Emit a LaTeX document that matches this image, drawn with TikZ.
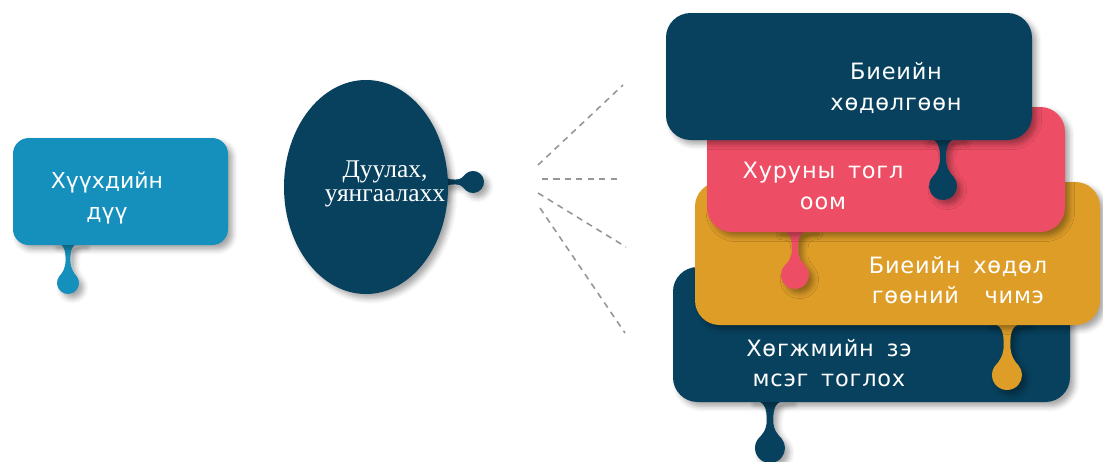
\documentclass[tikz,border=0pt]{standalone}
\usepackage{fontspec}
\setmainfont{DejaVu Sans}
\newfontfamily\wideface[LetterSpace=3.5,WordSpace=1.6]{DejaVu Sans}
\newfontfamily\serifcyr{Liberation Serif}
\usetikzlibrary{shadows.blur}
\definecolor{cblue}{RGB}{21,144,188}
\definecolor{cnavy}{RGB}{7,65,94}
\definecolor{cpink}{RGB}{238,78,101}
\definecolor{corange}{RGB}{222,157,39}
\definecolor{cdash}{RGB}{150,150,150}
\tikzset{
 shad/.style={blur shadow={shadow xshift=2.5pt, shadow yshift=-2.5pt, shadow blur radius=3pt, shadow opacity=35}},
 lbl/.style={text=white, align=center, font=\wideface\fontsize{12.8}{17.5}\selectfont},
 lblleft/.style={text=white, align=center, font=\fontsize{12.5}{17.5}\selectfont},
 dashline/.style={draw=cdash, line width=0.9pt, dash pattern=on 3.5pt off 3pt},
}
% x, y, D (distance to drop centre), r, colour, rotation
\newcommand{\droptail}[6]{%
 \begin{scope}[shift={(#1,#2)}, rotate=#6]
 \path[shad, fill=#5] ({-1.3*#4},-2) .. controls ({-0.3*#4},-2) and ({-0.22*#4},{0.15*#3}) .. ({-0.22*#4},{0.4*#3})
   .. controls ({-0.22*#4},{0.6*#3}) and ({-0.5*#4},{#3-0.9*#4}) .. ({-0.766*#4},{#3-0.643*#4})
   arc (220:-40:#4)
   .. controls ({0.5*#4},{#3-0.9*#4}) and ({0.22*#4},{0.6*#3}) .. ({0.22*#4},{0.4*#3})
   .. controls ({0.22*#4},{0.15*#3}) and ({0.3*#4},-2) .. ({1.3*#4},-2) -- cycle;
 \end{scope}}
\begin{document}
\begin{tikzpicture}[x=0.02cm, y=-0.02cm]
\useasboundingbox (0,0) rectangle (1103,461);
\clip (0,0) rectangle (1103,461);
% left box
\droptail{68}{245}{38}{11}{cblue}{0}
\path[shad, fill=cblue, rounded corners=9pt] (13,138) rectangle (228,245);
\node[lblleft] (t1) at (107,198) {Хүүхдийн\\дүү};
% ellipse
\droptail{444}{182}{29}{11}{cnavy}{90}
\path[shad, fill=cnavy] (366,187) ellipse [x radius=82, y radius=107];
\node[text=white, align=center, font=\serifcyr\fontsize{14.5}{13.5}\selectfont] (t2) at (385,184) {Дуулах,\\уянгаалахх};
% dashed lines
\coordinate (d1a) at (538,165); \coordinate (d1b) at (623,85);
\coordinate (d2a) at (542,179); \coordinate (d2b) at (620,179);
\coordinate (d3a) at (538,193); \coordinate (d3b) at (626,247);
\coordinate (d4a) at (540,208); \coordinate (d4b) at (625,333);
\draw[dashline] (d1a) -- (d1b);
\draw[dashline] (d2a) -- (d2b);
\draw[dashline] (d3a) -- (d3b);
\draw[dashline] (d4a) -- (d4b);
% bottom navy box
\droptail{770}{402}{46}{15}{cnavy}{0}
\path[shad, fill=cnavy, rounded corners=14pt] (673,267) rectangle (1070,402);
\node[lbl] (t6) at (829,363) {Хөгжмийн зэ\\мсэг тоглох};
% orange box
\droptail{1007}{325}{50}{15}{corange}{0}
\path[shad, fill=corange, rounded corners=14pt] (695,182) rectangle (1100,325);
\node[lbl] (t5) at (958,280) {Биеийн хөдөл\\гөөний\ \ чимэ};
% pink box
\droptail{795}{232}{43}{14}{cpink}{0}
\path[shad, fill=cpink, rounded corners=14pt] (707,107) rectangle (1065,232);
\node[lbl] (t4) at (823,186) {Хуруны тогл\\оом};
% top navy box
\droptail{943}{140}{46}{14}{cnavy}{0}
\path[shad, fill=cnavy, rounded corners=14pt] (666,13) rectangle (1032,140);
\node[lbl] (t3) at (896,88) {Биеийн\\хөдөлгөөн};
\end{tikzpicture}
\end{document}
